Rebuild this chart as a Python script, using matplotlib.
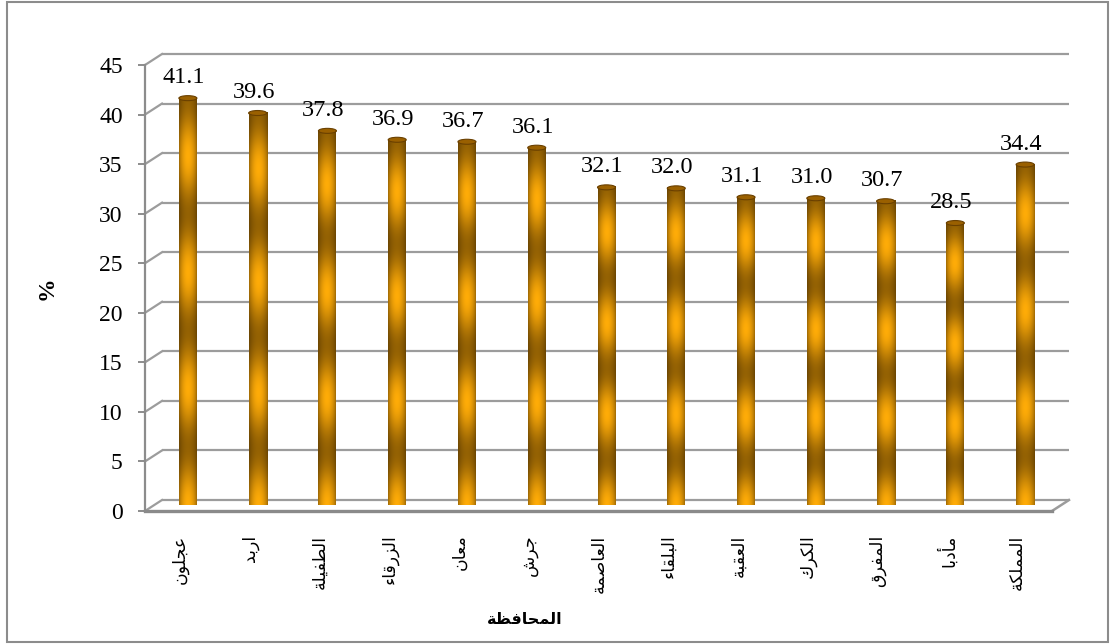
import numpy as np
import matplotlib
matplotlib.use('Agg')
import matplotlib.pyplot as plt
from matplotlib.patches import Ellipse, Rectangle

# data
governorates = ['عجلون', 'اربد', 'الطفيلة', 'الزرقاء', 'معان', 'جرش', 'العاصمة',
                'البلقاء', 'العقبة', 'الكرك', 'المفرق', 'مأدبا', 'المملكة']
values = [41.1, 39.6, 37.8, 36.9, 36.7, 36.1, 32.1, 32.0, 31.1, 31.0, 30.7, 28.5, 34.4]
yticks = [0, 5, 10, 15, 20, 25, 30, 35, 40, 45]
xlabel = 'المحافظة'
ylabel = '%'

# matplotlib has no arabic shaping, so pick presentation forms by hand
# (isolated, final, initial, medial)
FORMS = {
    'ء': ('\uFE80', None, None, None),
    'أ': ('\uFE83', '\uFE84', None, None),
    'ا': ('\uFE8D', '\uFE8E', None, None),
    'ب': ('\uFE8F', '\uFE90', '\uFE91', '\uFE92'),
    'ة': ('\uFE93', '\uFE94', None, None),
    'ج': ('\uFE9D', '\uFE9E', '\uFE9F', '\uFEA0'),
    'ح': ('\uFEA1', '\uFEA2', '\uFEA3', '\uFEA4'),
    'د': ('\uFEA9', '\uFEAA', None, None),
    'ر': ('\uFEAD', '\uFEAE', None, None),
    'ز': ('\uFEAF', '\uFEB0', None, None),
    'ش': ('\uFEB5', '\uFEB6', '\uFEB7', '\uFEB8'),
    'ص': ('\uFEB9', '\uFEBA', '\uFEBB', '\uFEBC'),
    'ط': ('\uFEC1', '\uFEC2', '\uFEC3', '\uFEC4'),
    'ظ': ('\uFEC5', '\uFEC6', '\uFEC7', '\uFEC8'),
    'ع': ('\uFEC9', '\uFECA', '\uFECB', '\uFECC'),
    'ف': ('\uFED1', '\uFED2', '\uFED3', '\uFED4'),
    'ق': ('\uFED5', '\uFED6', '\uFED7', '\uFED8'),
    'ك': ('\uFED9', '\uFEDA', '\uFEDB', '\uFEDC'),
    'ل': ('\uFEDD', '\uFEDE', '\uFEDF', '\uFEE0'),
    'م': ('\uFEE1', '\uFEE2', '\uFEE3', '\uFEE4'),
    'ن': ('\uFEE5', '\uFEE6', '\uFEE7', '\uFEE8'),
    'و': ('\uFEED', '\uFEEE', None, None),
    'ي': ('\uFEF1', '\uFEF2', '\uFEF3', '\uFEF4'),
}


def shape(word):
    out = []
    n = len(word)
    for i, ch in enumerate(word):
        f = FORMS[ch]
        prev = word[i - 1] if i > 0 else None
        nxt = word[i + 1] if i < n - 1 else None
        join_prev = prev is not None and FORMS[prev][2] is not None and f[1] is not None
        join_next = nxt is not None and f[2] is not None and FORMS[nxt][1] is not None
        if join_prev and join_next:
            out.append(f[3])
        elif join_prev:
            out.append(f[1])
        elif join_next:
            out.append(f[2])
        else:
            out.append(f[0])
    return ''.join(out[::-1])


W, H = 1110, 644
fig = plt.figure(figsize=(W / 100, H / 100), dpi=100)
ax = fig.add_axes([145 / W, 133 / H, 907 / W, 446 / H])
ax.set_xlim(-0.5, 12.5)
ax.set_ylim(0, 45)

pxx = 907 / 13.0   # pixels per category
pxy = 446 / 45.0   # pixels per percent
# depth offsets (data units): back wall and bar mid-depth
bdx, bdy = 17 / pxx, 11 / pxy
mdx, mdy = 8 / pxx, 5.5 / pxy

grid_c = '#9c9c9c'
for v in yticks:
    ax.plot([-0.5 + bdx, 12.5 + bdx], [v + bdy, v + bdy], color=grid_c, lw=1.6,
            clip_on=False, zorder=1, solid_capstyle='butt')
    ax.plot([-0.5, -0.5 + bdx], [v, v + bdy], color=grid_c, lw=1.6,
            clip_on=False, zorder=1)
ax.plot([12.5, 12.5 + bdx], [0, bdy], color=grid_c, lw=1.8, clip_on=False, zorder=1)

# cylinder texture
nx, ny = 40, 300
u = np.linspace(-1, 1, nx)
h = 0.5 + 0.5 * np.cos(u * np.pi / 2) ** 0.7
bright = np.array([255, 172, 8]) / 255.0
dark = np.array([62, 38, 0]) / 255.0

bw = 18 / pxx
x = np.arange(len(values))
for xi, val in zip(x, values):
    t = np.linspace(0, 1, ny)
    p = 0.5 - 0.5 * np.cos(7 * np.pi * t)
    lum = h[None, :] * (0.45 + 0.55 * p[:, None])
    img = dark + (bright - dark) * lum[..., None]
    cx = xi + mdx
    ax.imshow(img, extent=(cx - bw / 2, cx + bw / 2, mdy, val + mdy),
              aspect='auto', origin='upper', interpolation='bilinear',
              zorder=3, clip_on=False)
    ax.add_patch(Ellipse((cx, val + mdy), bw, 5 / pxy, facecolor='#9a6000',
                         edgecolor='#6a4000', lw=0.8, zorder=4, clip_on=False))
    ax.text(xi + 4 / pxx, val + mdy + 10 / pxy, f'{val:.1f}', ha='center',
            va='bottom', fontsize=17.5, family='Liberation Serif', zorder=5)

ax.set_xlim(-0.5, 12.5)
ax.set_ylim(0, 45)

ax.set_yticks(yticks)
ax.set_yticklabels([str(v) for v in yticks], family='Liberation Serif', fontsize=17)
ax.tick_params(axis='y', direction='out', length=5, width=1.4, color='#8c8c8c', pad=11)
ax.set_xticks(x)
ax.set_xticklabels([shape(g) for g in governorates], rotation=90, family='DejaVu Sans',
                   fontsize=12.5, va='top')
ax.tick_params(axis='x', length=0, pad=17)

for s in ['top', 'right']:
    ax.spines[s].set_visible(False)
ax.spines['left'].set_color('#8c8c8c')
ax.spines['left'].set_linewidth(1.6)
ax.spines['bottom'].set_color('#8a8a8a')
ax.spines['bottom'].set_linewidth(2.4)
ax.spines['bottom'].set_zorder(6)
ax.patch.set_alpha(0)

fig.text(525 / W, 1 - 620 / H, shape(xlabel), ha='center', va='center',
         family='DejaVu Sans', fontweight='bold', fontsize=11.5)
fig.text(47 / W, 1 - 288 / H, ylabel, ha='center', va='center', rotation=90,
         family='Liberation Serif', fontweight='bold', fontsize=17)

fig.add_artist(Rectangle((7 / W, 2 / H), 1101 / W, 640 / H, transform=fig.transFigure,
                         fill=False, edgecolor='#8c8c8c', lw=1.5))

fig.savefig('out.png', dpi=100)
